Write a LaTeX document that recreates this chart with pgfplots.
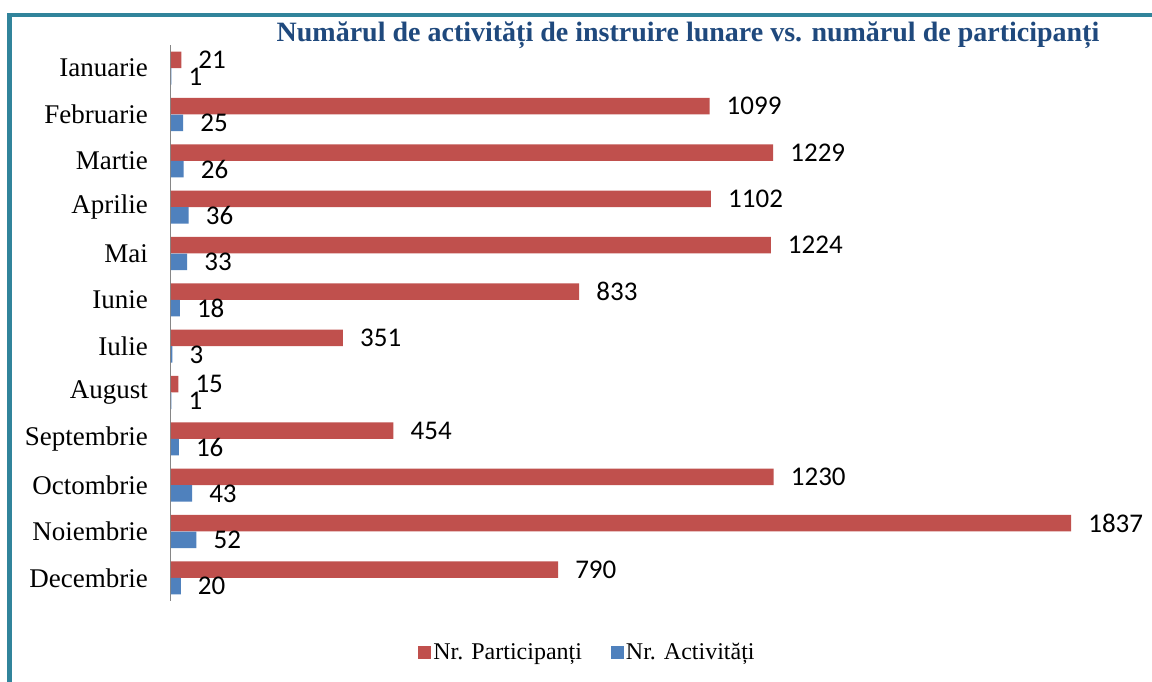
\documentclass[border=0pt]{standalone}
\usepackage{pgfplots}
\pgfplotsset{compat=1.18}
\usepackage{fontspec}
\setmainfont{Liberation Serif}
\newfontfamily\calibri{Carlito}
\definecolor{barred}{HTML}{C0504D}
\definecolor{barblue}{HTML}{4F81BD}
\definecolor{titleblue}{HTML}{1F497D}
\definecolor{framecol}{HTML}{31849B}
\definecolor{axisgray}{HTML}{868686}
\begin{document}
\begin{tikzpicture}
\path[use as bounding box] (0,0) rectangle (1152pt,-682pt);
\fill[white] (0,0) rectangle (1152pt,-682pt);
\draw[framecol, line width=4.5pt, line join=miter] (9.5pt,-690pt) -- (9.5pt,-15pt) -- (1160pt,-15pt);
\node[font=\bfseries\fontsize{28}{28}\selectfont, text=titleblue] at (688pt,-35pt) {Numărul de activități de instruire lunare vs. numărul de participanți};
\begin{axis}[
  at={(171pt,-601pt)}, anchor=south west,
  scale only axis, width=980pt, height=556pt,
  xbar, xmin=0, xmax=2000, ymin=-0.5, ymax=11.5, y dir=reverse,
  axis x line=none, axis y line*=left,
  y axis line style={axisgray, line width=1pt},
  ytick={0,...,11},
  yticklabels={Ianuarie,Februarie,Martie,Aprilie,Mai,Iunie,Iulie,August,Septembrie,Octombrie,Noiembrie,Decembrie},
  major tick length=0pt,
  yticklabel style={font=\fontsize{27}{27}\selectfont, anchor=east, inner sep=0pt, xshift=-23pt},
  bar width=16.5pt,
  nodes near coords,
  every node near coord/.append style={font=\calibri\fontsize{27}{27}\selectfont, inner sep=0pt, xshift=17pt, anchor=west, text=black},
  /pgf/number format/1000 sep={},
  /pgf/number format/assume math mode=true,
  legend style={at={(0.425,-0.0917)}, anchor=center, draw=none, fill=none,
    font=\fontsize{24}{24}\selectfont, legend columns=2,
    /tikz/every even column/.append style={column sep=27pt}},
  legend image code/.code={\fill[#1] (-2pt,-6.5pt) rectangle (11pt,6.5pt);},
]
\addplot[fill=barred, draw=none, bar shift=8.3pt] coordinates {
(21,0) (1099,1) (1229,2) (1102,3) (1224,4) (833,5) (351,6) (15,7) (454,8) (1230,9) (1837,10) (790,11)};
\addplot[fill=barblue, draw=none, bar shift=-8.3pt] coordinates {
(1,0) (25,1) (26,2) (36,3) (33,4) (18,5) (3,6) (1,7) (16,8) (43,9) (52,10) (20,11)};
\legend{Nr. Participanți, Nr. Activități}
\end{axis}
\end{tikzpicture}
\end{document}
